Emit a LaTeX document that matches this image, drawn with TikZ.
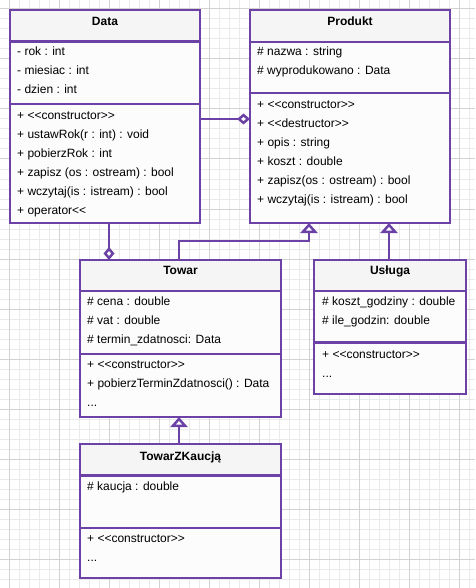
\documentclass[tikz,border=0pt]{standalone}
\usepackage{fontspec}
\setmainfont{Liberation Sans}
\usetikzlibrary{arrows.meta,calc}
\definecolor{umlline}{RGB}{108,66,166}
\definecolor{hdrfill}{RGB}{245,245,245}
\definecolor{bodyfill}{RGB}{252,252,252}
\definecolor{gridminor}{RGB}{234,234,234}
\definecolor{gridmajor}{RGB}{210,210,210}
\newcommand\moredots{...}
\newcommand\stereo[1]{<{}<#1>{}>}
% frame of a class: header fill and the two compartment separators
\newcommand\classframe[3]{%
  \fill[hdrfill] ($(#1.north west)+(1,1)$) rectangle ($(#1.north east)+(-1,#2)$);
  \draw[sepline] ($(#1.north west)+(0,#2)$) -- ($(#1.north east)+(0,#2)$);
  \draw[sepline] ($(#1.north west)+(0,#3)$) -- ($(#1.north east)+(0,#3)$);
}
\begin{document}
\begin{tikzpicture}[x=1pt,y=-1pt,
  font=\fontsize{12}{14}\selectfont,
  classbox/.style={draw=umlline,line width=2.5pt,fill=bodyfill,anchor=north west,
    inner sep=0pt,outer sep=0pt},
  sepline/.style={draw=umlline,line width=2.5pt},
  title/.style={font=\fontsize{12}{14}\selectfont\bfseries,anchor=mid,inner sep=0pt},
  member/.style={anchor=mid west,inner sep=0pt},
  link/.style={draw=umlline,line width=2.5pt},
  aggr/.style={link,-{Diamond[fill=white,length=13pt,width=11pt,line width=2.5pt]}},
  gen/.style={link,-{Triangle[fill=white,length=10pt,width=17pt,line width=2.5pt]}},
]
\useasboundingbox (0,0) rectangle (475,588);
\fill[white] (0,0) rectangle (475,588);
% background grid
\foreach \g in {9,19,...,469} \draw[gridminor,line width=1pt] (\g,0) -- (\g,588);
\foreach \g in {9,19,...,579} \draw[gridminor,line width=1pt] (0,\g) -- (475,\g);
\foreach \g in {9,59,...,459} \draw[gridmajor,line width=1pt] (\g,0) -- (\g,588);
\foreach \g in {9,59,...,559} \draw[gridmajor,line width=1pt] (0,\g) -- (475,\g);

% ---- class Data
\node[classbox,minimum width=190pt,minimum height=213pt] (data) at (10,10) {};
\classframe{data}{31.5}{94}
\node[title] (data-t) at (105,23) {Data};
\foreach \t [count=\i] in {- rok : int,- miesiac : int,- dzien : int}
  \node[member] (data-a\i) at (17,{53+19*(\i-1)}) {\t};
\foreach \t [count=\i] in {+ \stereo{constructor},+ ustawRok(r : int) : void,+ pobierzRok : int,
    + zapisz (os : ostream) : bool,+ wczytaj(is : istream) : bool,+ operator<{}<}
  \node[member] (data-m\i) at (17,{117+19*(\i-1)}) {\t};

% ---- class Produkt
\node[classbox,minimum width=200pt,minimum height=213pt] (produkt) at (250,10) {};
\classframe{produkt}{32}{83}
\node[title] (produkt-t) at (350,23) {Produkt};
\foreach \t [count=\i] in {\# nazwa : string,\# wyprodukowano : Data}
  \node[member] (produkt-a\i) at (257,{53+19*(\i-1)}) {\t};
\foreach \t [count=\i] in {+ \stereo{constructor},+ \stereo{destructor},+ opis : string,+ koszt : double,
    + zapisz(os : ostream) : bool,+ wczytaj(is : istream) : bool}
  \node[member] (produkt-m\i) at (257,{106+19*(\i-1)}) {\t};

% ---- class Towar
\node[classbox,minimum width=201pt,minimum height=157pt] (towar) at (80,260) {};
\classframe{towar}{31}{94}
\node[title] (towar-t) at (180.5,272) {Towar};
\foreach \t [count=\i] in {\# cena : double,\# vat : double,\# termin\_zdatnosci: Data}
  \node[member] (towar-a\i) at (87,{303+19*(\i-1)}) {\t};
\foreach \t [count=\i] in {+ \stereo{constructor},+ pobierzTerminZdatnosci() : Data,\moredots}
  \node[member] (towar-m\i) at (87,{366+19*(\i-1)}) {\t};

% ---- class Usługa
\node[classbox,minimum width=152pt,minimum height=134pt] (usluga) at (314,260) {};
\classframe{usluga}{31}{82.5}
\node[title] (usluga-t) at (390,272) {Usługa};
\foreach \t [count=\i] in {\# koszt\_godziny : double,\# ile\_godzin: double}
  \node[member] (usluga-a\i) at (322,{303+19*(\i-1)}) {\t};
\foreach \t [count=\i] in {+ \stereo{constructor},\moredots}
  \node[member] (usluga-m\i) at (322,{356+19*(\i-1)}) {\t};

% ---- class TowarZKaucją
\node[classbox,minimum width=201pt,minimum height=134pt] (tzk) at (80,444) {};
\classframe{tzk}{31.5}{84}
\node[title] (tzk-t) at (180.5,458) {TowarZKaucją};
\node[member] (tzk-a1) at (87,488) {\# kaucja : double};
\foreach \t [count=\i] in {+ \stereo{constructor},\moredots}
  \node[member] (tzk-m\i) at (87,{540+19*(\i-1)}) {\t};

% ---- relation end points
\coordinate (agg1s) at ($(data.north east)+(0,109)$);
\coordinate (agg1e) at ($(produkt.north west)+(0,109)$);
\coordinate (agg2s) at ($(data.south west)+(99,0)$);
\coordinate (gen1s) at ($(towar.north west)+(99,0)$);
\coordinate (gen1e) at ($(produkt.south west)+(59,0)$);
\coordinate (gen1b) at ($(produkt.south west)+(59,18)$);
\coordinate (gen2s) at ($(usluga.north west)+(75,0)$);
\coordinate (gen3s) at ($(tzk.north west)+(99,0)$);

% ---- relations
\draw[aggr] (agg1s) -- (agg1e);
\draw[aggr] (agg2s) -- (agg2s |- towar.north);
\draw[gen] (gen1s) |- (gen1b) -- (gen1e);
\draw[gen] (gen2s) -- (gen2s |- produkt.south);
\draw[gen] (gen3s) -- (gen3s |- towar.south);
\end{tikzpicture}
\end{document}
